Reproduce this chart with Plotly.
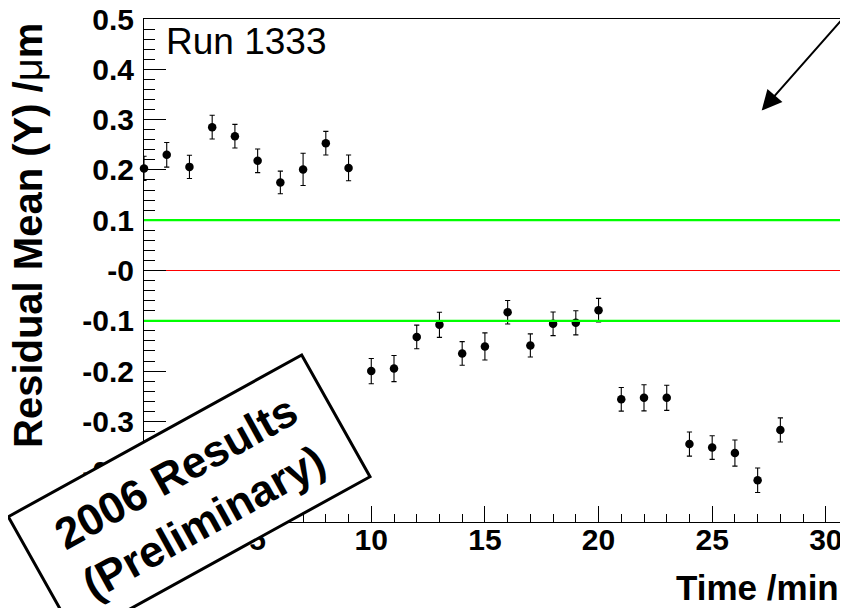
import plotly.graph_objects as go

# ---------------- data ----------------
time_min = [0, 1, 2, 3, 4, 5, 6, 7, 8, 9,
            10, 11, 12, 13, 14, 15, 16, 17, 18, 19,
            20, 21, 22, 23, 24, 25, 26, 27, 28]
residual_mean = [0.203, 0.230, 0.206, 0.285, 0.267, 0.218, 0.175, 0.201, 0.253, 0.204,
                 -0.200, -0.195, -0.132, -0.108, -0.165, -0.151, -0.083, -0.149, -0.106, -0.104,
                 -0.079, -0.256, -0.253, -0.253, -0.345, -0.352, -0.363, -0.417, -0.317]
residual_err = [0.024, 0.0245, 0.023, 0.0235, 0.0235, 0.0235, 0.0225, 0.032, 0.0235, 0.0255,
                0.025, 0.026, 0.0235, 0.025, 0.0235, 0.027, 0.0235, 0.023, 0.0235, 0.024,
                0.0235, 0.0235, 0.026, 0.025, 0.024, 0.0235, 0.026, 0.0245, 0.024]

green_levels = [0.1, -0.1]
red_level = 0.0

x_range = [0, 30.8]
y_range = [-0.5, 0.5]
x_tickvals = [0, 5, 10, 15, 20, 25, 30]
x_ticktext = ["0", "5", "10", "15", "20", "25", "30"]
y_tickvals = [-0.5, -0.4, -0.3, -0.2, -0.1, 0.0, 0.1, 0.2, 0.3, 0.4, 0.5]
y_ticktext = ["-0.5", "-0.4", "-0.3", "-0.2", "-0.1", "-0", "0.1", "0.2", "0.3", "0.4", "0.5"]

# ---------------- layout geometry ----------------
# the page body has an 8px margin, so the figure canvas starts at (8, 8) in the window
OFF = 8
W, H = 840, 600
ML, MR, MT, MB = 144 - OFF, 4, 19 - OFF, 86
PW, PH = W - ML - MR, H - MT - MB
FONT = "Liberation Sans, Arial, Helvetica, sans-serif"


def px_x(p):
    return (p - OFF - ML) / PW


def px_y(p):
    return (H - MB - (p - OFF)) / PH


fig = go.Figure()

fig.add_trace(go.Scatter(
    x=time_min, y=residual_mean, mode="markers",
    marker=dict(color="black", size=8.5, line=dict(width=0)),
    error_y=dict(type="data", array=residual_err, visible=True,
                 color="black", thickness=1.1, width=2.6),
    cliponaxis=False, showlegend=False,
))

shapes = []
shapes.append(dict(type="line", xref="x", yref="y", x0=x_range[0], x1=x_range[1],
                   y0=red_level, y1=red_level, line=dict(color="#ff0000", width=1.2),
                   layer="below"))
for g in green_levels:
    shapes.append(dict(type="line", xref="x", yref="y", x0=x_range[0], x1=x_range[1],
                       y0=g, y1=g, line=dict(color="#00ff00", width=2.2), layer="above"))

# rotated "preliminary" stamp box (pixel corners in the window)
box_corners = [(8.3, 516.7), (301.7, 355.0), (370.0, 476.7), (76.6, 638.4)]
path = "M" + " L".join("%.1f,%.1f" % (cx - OFF - ML, (H - MB) - (cy - OFF))
                       for cx, cy in box_corners) + " Z"
shapes.append(dict(type="path", xref="paper", yref="paper", xsizemode="pixel",
                   ysizemode="pixel", xanchor=0, yanchor=0, path=path,
                   fillcolor="white", line=dict(color="black", width=3), layer="above"))

annotations = [
    dict(text="Run 1333", xref="paper", yref="paper", x=px_x(164), y=px_y(41.5),
         xanchor="left", yanchor="middle", showarrow=False,
         font=dict(family=FONT, size=37, color="black")),
    dict(text='Residual Mean (Y) /<span style="font-weight:normal">μ</span>m',
         xref="paper", yref="paper", x=px_x(27.5), y=px_y(21),
         xanchor="center", yanchor="top", textangle=-90, showarrow=False,
         font=dict(family=FONT, size=40, color="black", weight="bold")),
    dict(text="Time /min", xref="paper", yref="paper", x=px_x(841), y=px_y(587),
         xanchor="right", yanchor="middle", showarrow=False,
         font=dict(family=FONT, size=35, color="black", weight="bold")),
    dict(text="2006 Results<br>(Preliminary)", xref="paper", yref="paper",
         x=px_x(189.2), y=px_y(496.7), xanchor="center", yanchor="middle",
         textangle=-29, showarrow=False,
         font=dict(family=FONT, size=44, color="black", weight="bold")),
    dict(text="", xref="paper", yref="paper", x=px_x(761.7), y=px_y(110.5),
         ax=84.3, ay=-95.5, showarrow=True, arrowhead=2, arrowsize=2.0,
         arrowwidth=2, arrowcolor="black", standoff=0),
]

tickfont = dict(family=FONT, size=30, color="black", weight="bold")

fig.update_layout(
    template="none",
    width=W, height=H, margin=dict(l=ML, r=MR, t=MT, b=MB, pad=0, autoexpand=False),
    paper_bgcolor="white", plot_bgcolor="white",
    shapes=shapes, annotations=annotations, showlegend=False,
    xaxis=dict(range=x_range, showline=True, linecolor="black", linewidth=1, mirror=True,
               automargin=False,
               ticks="inside", ticklen=16, tickwidth=1, tickcolor="black",
               tickmode="array", tickvals=x_tickvals, ticktext=x_ticktext,
               tickfont=tickfont, showgrid=False, zeroline=False, ticklabelstandoff=-9,
               ticklabeloverflow="allow",
               minor=dict(ticks="inside", ticklen=8.5, tickwidth=1, tickcolor="black",
                          tickmode="linear", tick0=0, dtick=1, showgrid=False)),
    yaxis=dict(range=y_range, showline=True, linecolor="black", linewidth=1, mirror=True,
               automargin=False,
               ticks="inside", ticklen=22, tickwidth=1, tickcolor="black",
               tickmode="array", tickvals=y_tickvals, ticktext=y_ticktext,
               tickfont=tickfont, showgrid=False, zeroline=False, ticklabelstandoff=3,
               ticklabeloverflow="allow",
               minor=dict(ticks="inside", ticklen=11, tickwidth=1, tickcolor="black",
                          tickmode="linear", tick0=0, dtick=0.02, showgrid=False)),
)

fig.write_html("out.html")
